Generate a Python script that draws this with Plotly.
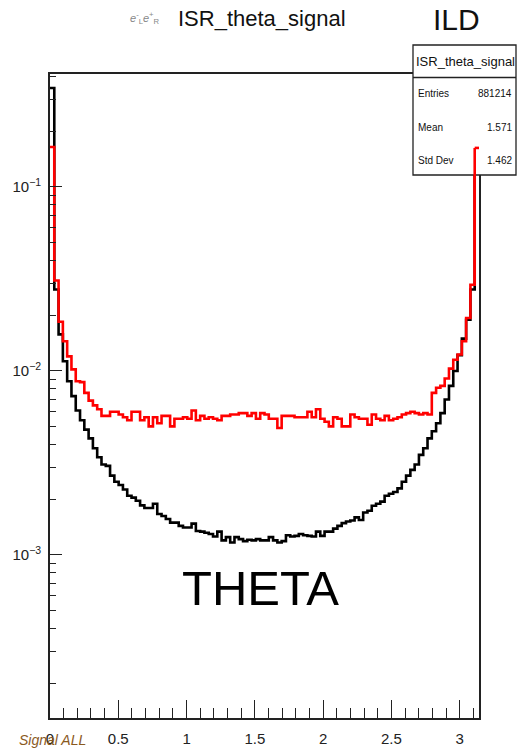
import numpy as np
import plotly.graph_objects as go

# ---------------- data ----------------
N_BINS = 100
X_MIN, X_MAX = 0.0, np.pi

black_vals = [
    0.345, 0.0277, 0.0158, 0.0113, 0.0088, 0.0073, 0.0061, 0.0054, 0.0048, 0.0043,
    0.0038, 0.0034, 0.0031, 0.00305, 0.0027, 0.0025, 0.0024, 0.00227, 0.0021, 0.00205,
    0.00197, 0.00186, 0.0018, 0.0018, 0.0019, 0.00167, 0.00163, 0.00157, 0.0015, 0.0015,
    0.00144, 0.00141, 0.00141, 0.00148, 0.00135, 0.00134, 0.00132, 0.0013, 0.00126, 0.00134,
    0.0012, 0.00125, 0.00117, 0.00125, 0.00122, 0.00119, 0.00121, 0.0012, 0.00122, 0.0012,
    0.0012, 0.00125, 0.0012, 0.00117, 0.00119, 0.00128, 0.00126, 0.00127, 0.0013, 0.00128,
    0.00127, 0.00126, 0.00134, 0.00127, 0.00134, 0.00134, 0.00139, 0.00144, 0.00149, 0.00152,
    0.00154, 0.0016, 0.00155, 0.0017, 0.00174, 0.00185, 0.0019, 0.00195, 0.0021, 0.00215,
    0.0022, 0.0023, 0.0025, 0.0027, 0.0029, 0.0031, 0.0035, 0.0038, 0.0043, 0.0047,
    0.0052, 0.0059, 0.0070, 0.0083, 0.0100, 0.0122, 0.0150, 0.0190, 0.0277, 0.34,
]

red_vals = [
    0.165, 0.031, 0.0185, 0.0145, 0.012, 0.0102, 0.0088, 0.0087, 0.0076, 0.0069,
    0.0065, 0.0062, 0.0057, 0.0057, 0.0060, 0.0060, 0.0058, 0.0056, 0.0054, 0.0060,
    0.0060, 0.0054, 0.0056, 0.0050, 0.0056, 0.0052, 0.0057, 0.0057, 0.0050, 0.0055,
    0.0055, 0.0056, 0.0055, 0.0061, 0.0054, 0.0057, 0.0055, 0.0056, 0.0055, 0.0054,
    0.0057, 0.0057, 0.0058, 0.0058, 0.0059, 0.0059, 0.0057, 0.0059, 0.0055, 0.0059,
    0.0058, 0.0055, 0.0055, 0.0049, 0.0057, 0.0057, 0.0057, 0.0056, 0.0056, 0.0056,
    0.0060, 0.0056, 0.0062, 0.0055, 0.0053, 0.0050, 0.0056, 0.0055, 0.0050, 0.0050,
    0.0058, 0.0056, 0.0055, 0.0055, 0.0051, 0.0058, 0.0055, 0.0054, 0.0057, 0.0054,
    0.0055, 0.0056, 0.0058, 0.0059, 0.0060, 0.0059, 0.0058, 0.0059, 0.0058, 0.0076,
    0.0081, 0.0083, 0.0091, 0.0103, 0.0115, 0.0123, 0.0145, 0.0194, 0.0294, 0.163,
]

x_tick_vals = [0, 0.5, 1, 1.5, 2, 2.5, 3]
x_tick_text = ["0", "0.5", "1", "1.5", "2", "2.5", "3"]
y_tick_vals = [1e-3, 1e-2, 1e-1]
y_tick_text = ["10<sup>\u22123</sup>", "10<sup>\u22122</sup>", "10<sup>\u22121</sup>"]

stats_name = "ISR_theta_signal"
stats_rows = [("Entries", "881214"), ("Mean", "1.571"), ("Std Dev", "1.462")]

# ---------------- build ----------------
edges = np.linspace(X_MIN, X_MAX, N_BINS + 1)


def step_xy(vals):
    xs = list(edges)
    ys = list(vals) + [vals[-1]]
    return xs, ys


FONT = "Liberation Sans, Arial, Helvetica, sans-serif"

fig = go.Figure()
bx, by = step_xy(black_vals)
rx, ry = step_xy(red_vals)
fig.add_trace(go.Scatter(x=bx, y=by, mode="lines", line=dict(color="black", width=2.6, shape="hv"),
                         showlegend=False, hoverinfo="skip"))
fig.add_trace(go.Scatter(x=rx, y=ry, mode="lines", line=dict(color="#ff0000", width=2.6, shape="hv"),
                         showlegend=False, hoverinfo="skip"))

W, H = 519, 748
ML, MR, MT, MB = 50, 40, 74, 30
PW, PH = W - ML - MR, H - MT - MB


def px(x):
    return (x - ML) / PW


def py(y):
    return (H - MB - y) / PH


shapes = []
# stats box
shapes.append(dict(type="rect", xref="paper", yref="paper", x0=px(413), x1=px(516), y0=py(175), y1=py(45),
                   fillcolor="white", line=dict(color="#222", width=1.3), layer="above"))
shapes.append(dict(type="line", xref="paper", yref="paper", x0=px(413), x1=px(516), y0=py(77.5), y1=py(77.5),
                   line=dict(color="#222", width=1.3), layer="above"))
# red histogram is drawn over the stats box in the original
shapes.append(dict(type="line", xref="x", yref="y", x0=edges[-2], x1=edges[-2], y0=red_vals[-2], y1=red_vals[-1],
                   line=dict(color="#ff0000", width=2.6), layer="above"))
shapes.append(dict(type="line", xref="x", yref="y", x0=edges[-2], x1=edges[-1], y0=red_vals[-1], y1=red_vals[-1],
                   line=dict(color="#ff0000", width=2.6), layer="above"))

annotations = []
annotations.append(dict(xref="paper", yref="paper", x=px(465), y=py(61), text=stats_name, showarrow=False,
                        xanchor="center", yanchor="middle", font=dict(family=FONT, size=13, color="#111")))
row_y = [94, 127, 160]
for (lab, val), yy in zip(stats_rows, row_y):
    annotations.append(dict(xref="paper", yref="paper", x=px(416), y=py(yy), text=lab, showarrow=False,
                            xanchor="left", yanchor="middle", font=dict(family=FONT, size=10, color="#111")))
    annotations.append(dict(xref="paper", yref="paper", x=px(514), y=py(yy), text=val, showarrow=False,
                            xanchor="right", yanchor="middle", font=dict(family=FONT, size=10, color="#111")))

annotations.append(dict(xref="paper", yref="paper", x=px(128), y=py(18),
                        text="<i>e</i><sup>-</sup><sub>L</sub><i>e</i><sup>+</sup><sub>R</sub>", showarrow=False,
                        xanchor="left", yanchor="middle", font=dict(family=FONT, size=11, color="#888")))
annotations.append(dict(xref="paper", yref="paper", x=px(176), y=py(18), text="ISR_theta_signal", showarrow=False,
                        xanchor="left", yanchor="middle", font=dict(family=FONT, size=22, color="#111")))
annotations.append(dict(xref="paper", yref="paper", x=px(431), y=py(19), text="ILD", showarrow=False,
                        xanchor="left", yanchor="middle", font=dict(family=FONT, size=30, color="#111")))
annotations.append(dict(xref="paper", yref="paper", x=px(260), y=py(588), text="THETA", showarrow=False,
                        xanchor="center", yanchor="middle", font=dict(family=FONT, size=49, color="black")))
annotations.append(dict(xref="paper", yref="paper", x=px(17), y=py(740), text="<i>Signal ALL</i>", showarrow=False,
                        xanchor="left", yanchor="middle", font=dict(family=FONT, size=14, color="#8a5a1e")))

y_minor = [m * 10.0 ** e for e in (-4, -3, -2, -1) for m in range(2, 10)]

fig.update_layout(
    width=W, height=H,
    margin=dict(l=ML, r=MR, t=MT, b=MB, autoexpand=False),
    paper_bgcolor="white", plot_bgcolor="white",
    shapes=shapes, annotations=annotations,
    showlegend=False,
    xaxis=dict(range=[X_MIN, X_MAX], automargin=False, showgrid=False, zeroline=False, showline=True,
               linecolor="#222", linewidth=1.6,
               mirror=True, ticks="inside", ticklen=18, tickwidth=1.3, tickcolor="#222",
               tickmode="array", tickvals=x_tick_vals, ticktext=x_tick_text, ticklabelstandoff=6,
               tickfont=dict(family=FONT, size=15, color="#222"),
               minor=dict(ticks="inside", ticklen=10, tickwidth=1.2, tickcolor="#222", dtick=0.1, tick0=0,
                          showgrid=False)),
    yaxis=dict(type="log", range=[-3.886, -0.386], automargin=False, showgrid=False, zeroline=False,
               showline=True, linecolor="#222",
               linewidth=1.6, mirror=True, ticks="inside", ticklen=12, tickwidth=1.3, tickcolor="#222",
               tickmode="array", tickvals=y_tick_vals, ticktext=y_tick_text, ticklabelstandoff=4,
               tickfont=dict(family=FONT, size=15, color="#222"),
               minor=dict(ticks="inside", ticklen=6, tickwidth=1.2, tickcolor="#222", tickmode="array",
                          tickvals=y_minor, showgrid=False)),
)

fig.write_html("out.html")
